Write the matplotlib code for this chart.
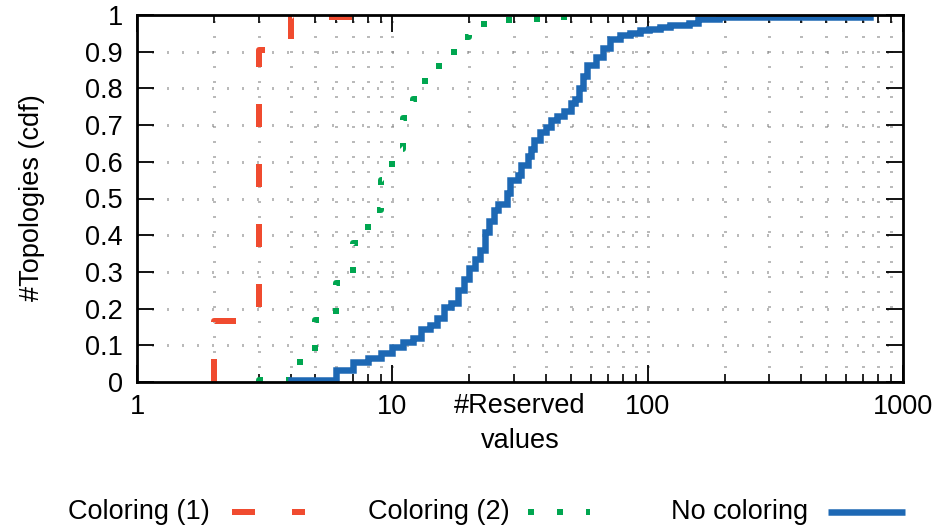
import matplotlib
matplotlib.use("Agg")
import matplotlib.pyplot as plt
from matplotlib.lines import Line2D
import numpy as np

plt.rcParams['font.family'] = ['Liberation Sans', 'DejaVu Sans']
plt.rcParams['lines.scale_dashes'] = False

# cdf steps: value -> fraction of topologies at or below it
col1_x = [2, 3, 4, 9]
col1_y = [0.165, 0.905, 0.995, 1.0]

col2_x = [3, 4, 5, 6, 7, 8, 9, 10, 11, 12, 13, 14, 16, 18, 20, 25, 32, 40, 52]
col2_y = [0.005, 0.054, 0.17, 0.27, 0.38, 0.47, 0.55, 0.635, 0.72, 0.77,
          0.82, 0.86, 0.90, 0.94, 0.975, 0.986, 0.99, 0.994, 1.0]

nocol_x = [4, 6, 7, 8, 9, 10, 11, 12, 13, 14, 15, 16, 17, 18, 19, 20, 21, 22,
           23, 24, 25, 26, 28, 29, 31, 32, 34, 35, 36, 38, 40, 42, 44, 47, 50,
           52, 54, 56, 58, 63, 67, 71, 78, 85, 93, 101, 112, 122, 145, 158,
           190, 743]
nocol_y = [0.005, 0.033, 0.055, 0.065, 0.079, 0.095, 0.11, 0.12, 0.145, 0.155,
           0.175, 0.205, 0.215, 0.25, 0.28, 0.31, 0.335, 0.36, 0.41, 0.44,
           0.47, 0.485, 0.515, 0.55, 0.565, 0.59, 0.615, 0.635, 0.66, 0.68,
           0.695, 0.715, 0.725, 0.738, 0.76, 0.77, 0.80, 0.835, 0.865, 0.885,
           0.91, 0.935, 0.945, 0.95, 0.958, 0.963, 0.966, 0.972, 0.978, 0.99,
           0.995, 1.0]

xticks = [1, 10, 100, 1000]
yticks = np.round(np.arange(0, 1.01, 0.1), 1)

RED = '#f04b2f'
GREEN = '#00a650'
BLUE = '#1d68b4'
PX = 0.72  # points per pixel at dpi 100
FS = 19.5

styles = [
    ('Coloring (1)', col1_x, col1_y,
     dict(color=RED, lw=6 * PX, linestyle=(0, (23 * PX, 37 * PX)), dash_capstyle='butt')),
    ('Coloring (2)', col2_x, col2_y,
     dict(color=GREEN, lw=6 * PX, linestyle=(0, (6 * PX, 23 * PX)), dash_capstyle='butt')),
    ('No coloring', nocol_x, nocol_y,
     dict(color=BLUE, lw=6.5 * PX, solid_capstyle='butt', solid_joinstyle='miter')),
]

fig = plt.figure(figsize=(9.39, 5.29), dpi=100)
W, H = 939, 529
ax = fig.add_axes([137 / W, 1 - 382 / H, (903 - 137) / W, (382 - 15) / H])

grid_kw = dict(color='#777777', lw=3 * PX, linestyle=(0, (1 * PX, 14 * PX)), zorder=0)
for yv in yticks[1:-1]:
    ax.axhline(yv, **grid_kw)
for dec in [1, 10, 100]:
    for m in range(2, 10):
        ax.axvline(dec * m, **grid_kw)
for xv in [10, 100]:
    ax.axvline(xv, **grid_kw)

for label, xs, ys, kw in styles:
    ax.plot([xs[0]] + list(xs), [0] + list(ys), drawstyle='steps-post', zorder=3, **kw)

ax.set_xscale('log')
ax.set_xlim(1, 1000)
ax.set_ylim(0, 1)
ax.set_xticks(xticks)
ax.set_xticklabels([str(v) for v in xticks])
ax.set_yticks(yticks)
ax.set_yticklabels(['0'] + ['%.1f' % v for v in yticks[1:-1]] + ['1'])
ax.tick_params(which='major', direction='in', length=12, width=1.3, top=True, right=True,
               labelsize=FS, colors='black')
ax.tick_params(axis='x', which='major', pad=9)
ax.tick_params(axis='y', which='major', pad=10)
ax.tick_params(which='minor', direction='in', length=6, width=1.2, top=True, right=True)
ax.tick_params(axis='y', which='minor', length=0)
for sp in ax.spines.values():
    sp.set_linewidth(2)
    sp.set_zorder(5)

fig.text(32 / W, 1 - 198 / H, '#Topologies (cdf)', fontsize=FS, rotation=90,
         ha='center', va='center')
fig.text(520 / W, 1 - 406 / H, '#Reserved', fontsize=FS, ha='center', va='center')
fig.text(520 / W, 1 - 441 / H, 'values', fontsize=FS, ha='center', va='center')

# key along the bottom: label on the left, sample on the right
lg = fig.add_axes([0, 0, 1, 1])
lg.set_xlim(0, W)
lg.set_ylim(H, 0)
lg.axis('off')
entries = [(210, 232, 305), (510, 528, 590), (808, 828, 905)]
for (label, xs, ys, kw), (tx, l0, l1) in zip(styles, entries):
    lg.text(tx, 512, label, fontsize=FS, ha='right', va='center')
    lg.add_line(Line2D([l0, l1], [512, 512], **kw))

fig.savefig('out.png', dpi=100)
